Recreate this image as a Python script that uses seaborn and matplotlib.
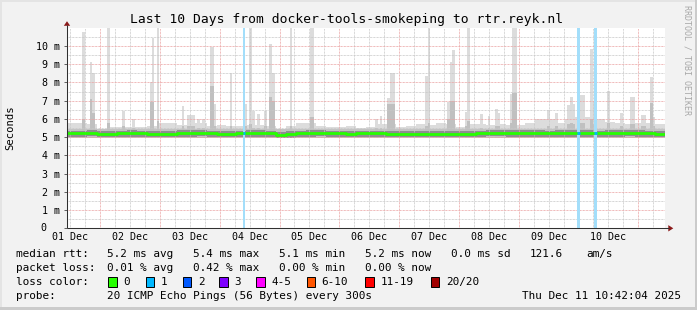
import numpy as np
import pandas as pd
import matplotlib
matplotlib.use("Agg")
import matplotlib.pyplot as plt
import seaborn as sns
from matplotlib.patches import Rectangle, Polygon

# ---------------- data (hours since Dec 1 10:42, values in ms) ----------------
BIN_H = 4
smoke_top = [5.8, 5.8, 5.7, 5.45, 5.55, 5.55, 5.55, 5.55, 5.6, 5.8,
             5.8, 5.65, 5.8, 5.8, 5.6, 5.65, 5.6, 5.6, 5.65, 5.65,
             5.6, 5.45, 5.6, 5.75, 5.8, 5.6, 5.55, 5.55, 5.6, 5.5,
             5.55, 5.7, 5.7, 5.55, 5.6, 5.7, 5.65, 5.75, 5.7, 5.55,
             5.7, 5.7, 5.65, 5.7, 5.65, 5.65, 5.8, 6.0, 6.0, 5.8,
             6.0, 6.1, 6.1, 6.0, 5.85, 5.8, 5.7, 5.8, 5.8, 5.7]
median_ms = [5.2, 5.2, 5.23, 5.17, 5.18, 5.2, 5.21, 5.2, 5.19, 5.19,
             5.18, 5.21, 5.22, 5.24, 5.2, 5.18, 5.18, 5.2, 5.22, 5.22,
             5.2, 5.14, 5.16, 5.2, 5.22, 5.23, 5.2, 5.2, 5.19, 5.2,
             5.2, 5.2, 5.19, 5.18, 5.18, 5.18, 5.19, 5.18, 5.18, 5.19,
             5.18, 5.2, 5.23, 5.24, 5.22, 5.22, 5.22, 5.21, 5.2, 5.22,
             5.21, 5.21, 5.22, 5.2, 5.21, 5.22, 5.23, 5.22, 5.2, 5.19]

spike_start = [6.1, 9.2, 10.2, 15.9, 22.0, 26.0, 33.3, 34.1, 36.0, 46.0,
               48.0, 52.0, 54.0, 57.4, 58.8, 65.5, 71.5, 73.2, 74.2, 76.4,
               79.2, 81.2, 82.2, 89.6, 97.6, 123.7, 125.7, 128.4, 129.7, 143.8,
               144.7, 152.5, 153.8, 154.7, 159.8, 160.7, 165.9, 168.8, 171.9, 172.8,
               177.9, 178.6, 192.6, 196.0, 200.7, 202.0, 202.9, 205.7, 210.0, 211.0,
               216.7, 222.0, 226.0, 230.5, 234.1, 235.0]
spike_end = [7.2, 10.2, 11.2, 17.3, 23.3, 27.3, 34.1, 35.1, 37.1, 47.1,
             51.4, 53.4, 55.4, 58.8, 59.8, 66.4, 72.4, 74.2, 75.5, 77.5,
             80.2, 82.2, 83.5, 90.5, 99.2, 125.0, 126.6, 129.7, 131.7, 144.7,
             145.8, 153.8, 154.7, 155.8, 160.7, 161.8, 166.8, 169.9, 172.8, 173.9,
             178.6, 180.7, 194.0, 196.9, 202.0, 202.9, 204.0, 208.0, 211.0, 212.0,
             218.1, 223.0, 227.8, 232.4, 235.0, 236.0]
spike_top = [10.77, 9.12, 8.49, 11.0, 6.42, 6.02, 8.0, 10.44, 11.0, 6.7,
             6.24, 6.0, 6.0, 9.95, 6.8, 8.49, 6.8, 11.0, 6.42, 6.25,
             6.42, 10.1, 8.49, 11.0, 11.0, 6.0, 6.17, 7.15, 8.49, 8.36,
             11.0, 6.93, 9.12, 9.76, 6.39, 11.0, 6.25, 6.17, 6.53, 6.3,
             7.35, 11.0, 6.48, 6.33, 6.75, 7.2, 6.8, 7.3, 9.82, 6.9,
             7.54, 6.3, 7.2, 6.2, 8.3, 6.1]
spike_mid = [6.0, 7.1, 6.3, 5.8, 5.6, 5.5, 6.9, 6.9, 5.9, 5.6,
             5.6, 5.5, 5.5, 7.8, 5.6, 5.6, 5.6, 5.7, 5.5, 5.5,
             5.6, 7.2, 7.0, 5.6, 6.1, 5.5, 5.5, 6.8, 6.8, 5.6,
             5.8, 6.0, 7.0, 7.0, 5.6, 5.9, 5.5, 5.5, 5.6, 5.6,
             5.8, 7.4, 5.6, 5.6, 5.7, 5.8, 5.7, 5.8, 6.0, 5.7,
             5.8, 5.6, 5.7, 5.6, 6.85, 5.6]

loss_hours = [71.0, 205.2, 212.2]
day_labels = ["01 Dec", "02 Dec", "03 Dec", "04 Dec", "05 Dec",
              "06 Dec", "07 Dec", "08 Dec", "09 Dec", "10 Dec"]
y_tick_values = [0, 1, 2, 3, 4, 5, 6, 7, 8, 9, 10]
y_tick_labels = ["0", "1 m", "2 m", "3 m", "4 m", "5 m", "6 m", "7 m", "8 m", "9 m", "10 m"]

loss_names = ["0", "1", "2", "3", "4-5", "6-10", "11-19", "20/20"]
loss_colors = ["#26ff00", "#00b8ff", "#0059ff", "#7e00ff", "#ff00ff", "#ff5500", "#ff0000", "#a10000"]

TOTAL_H = 240
START_OFFSET_TO_NOON = 1.3   # Dec 1 10:42 -> 12:00
START_OFFSET_TO_MIDNIGHT = 13.3

# ---------------- figure ----------------
W, H = 697, 310
sns.set_theme(style="white")
plt.rcParams["font.family"] = ["DejaVu Sans Mono", "DejaVu Sans"]
MONO = "DejaVu Sans Mono"

fig = plt.figure(figsize=(W / 100, H / 100), dpi=100)
fig.patch.set_facecolor("#f2f2f2")

L, R, T, B = 67.0, 665.0, 27.7, 228.3
ax = fig.add_axes([L / W, (H - B) / H, (R - L) / W, (B - T) / H])
ax.set_facecolor("white")
ax.set_xlim(0, TOTAL_H)
ax.set_ylim(0, 11)
for s in ax.spines.values():
    s.set_visible(False)

edges = np.arange(len(smoke_top) + 1) * BIN_H
top_step = np.append(smoke_top, smoke_top[-1])
med_step = np.append(median_ms, median_ms[-1])

LIGHT, MID, DARK = "#dcdcdc", "#c3c3c3", "#8e8e8e"
SMOKE_LO = 4.93
MID_LO, MID_HI = 4.97, 5.45

# light smoke
ax.fill_between(edges, SMOKE_LO, top_step, step="post", color=LIGHT, lw=0, zorder=1)
s_start = np.array(spike_start)
s_w = np.array(spike_end) - s_start
ax.bar(s_start, np.array(spike_top) - SMOKE_LO, width=s_w, bottom=SMOKE_LO,
       align="edge", color=LIGHT, linewidth=0, zorder=1)
# medium smoke
ax.fill_between(edges, MID_LO, MID_HI, step="post", color=MID, lw=0, zorder=2)
ax.bar(s_start, np.array(spike_mid) - MID_LO, width=s_w, bottom=MID_LO,
       align="edge", color="#c0c0c0", linewidth=0, zorder=2)
# dark smoke around median
ax.fill_between(edges, med_step - 0.19, med_step + 0.16, step="post", color=DARK, lw=0, zorder=3)

# grid
dash = (0, (0.72, 0.72))
midnights = [START_OFFSET_TO_MIDNIGHT + 24 * k for k in range(10)]
sixes = [START_OFFSET_TO_NOON + 6 * k for k in range(40)]
minor_v = [h for h in sixes if all(abs(h - m) > 0.1 for m in midnights) and h < TOTAL_H]
ax.vlines(minor_v, 0, 11, colors="#c8c8c8", linestyles=dash, linewidth=0.72, zorder=4)
ax.vlines(midnights, 0, 11, colors="#eba3a3", linestyles=dash, linewidth=0.72, zorder=4)
ax.hlines([v + 0.5 for v in range(11)], 0, TOTAL_H, colors="#c8c8c8", linestyles=dash, linewidth=0.72, zorder=4)
ax.hlines(list(range(1, 11)), 0, TOTAL_H, colors="#eba3a3", linestyles=dash, linewidth=0.72, zorder=4)

# loss bars
ax.bar(loss_hours, 11, width=1.0, bottom=0, color="#a3defa", linewidth=0, zorder=5)

# median line
df = pd.DataFrame({"hour": edges, "median": med_step})
sns.lineplot(data=df, x="hour", y="median", drawstyle="steps-post", color="#26ff00",
             linewidth=2.0, estimator=None, ax=ax, zorder=6)
for h in loss_hours:
    idx = min(int(h // BIN_H), len(median_ms) - 1)
    ax.plot([h - 0.5, h + 0.5], [median_ms[idx]] * 2, color="#00b8ff", lw=2.0,
            solid_capstyle="butt", zorder=7)
ax.set_xlabel("")
ax.set_ylabel("")

# ticks
ax.set_xticks([START_OFFSET_TO_NOON + 24 * k for k in range(10)], labels=day_labels)
ax.set_yticks(y_tick_values, labels=[""] + y_tick_labels[1:])
ax.tick_params(axis="x", length=0, pad=3.0, labelsize=7.2, labelcolor="#000000")
ax.tick_params(axis="y", length=2.2, width=0.7, color="#606060", pad=2.6, labelsize=7.2,
               labelcolor="#000000", left=True)
for lab in ax.get_xticklabels() + ax.get_yticklabels():
    lab.set_family(MONO)
# rrdtool pads the "0" label to the width of "0  m", so it sits further left
ax.annotate(y_tick_labels[0], xy=(0, y_tick_values[0]), xycoords=("axes fraction", "data"),
            xytext=(-14.6, 0), textcoords="offset points", ha="right", va="center",
            fontsize=7.2, family=MONO, color="#000000", annotation_clip=False)
ax.grid(False)

# ---------------- overlay (pixel coords) ----------------
ov = fig.add_axes([0, 0, 1, 1], zorder=10)
ov.set_xlim(0, W)
ov.set_ylim(H, 0)
ov.axis("off")
ov.patch.set_alpha(0)

# frame
ov.add_patch(Rectangle((0, 0), W, 2, color="#e4e4e4", lw=0))
ov.add_patch(Rectangle((0, 0), 2, H, color="#e4e4e4", lw=0))
ov.add_patch(Rectangle((0, H - 3), W, 3, color="#cbcbcb", lw=0))
ov.add_patch(Rectangle((W - 2, 0), 2, H, color="#cbcbcb", lw=0))

# axes lines & arrows
ov.plot([L, L], [B, 24.5], color="#303030", lw=0.75, solid_capstyle="butt")
ov.plot([L, 669], [B, B], color="#303030", lw=0.75, solid_capstyle="butt")
ov.add_patch(Polygon([[63.8, 25.8], [70.2, 25.8], [67, 21.2]], closed=True, color="#8b1a1a", lw=0))
ov.add_patch(Polygon([[668.3, 225.1], [668.3, 231.5], [673.3, 228.3]], closed=True, color="#8b1a1a", lw=0))

# title and labels
ov.text(347, 19.3, "Last 10 Days from docker-tools-smokeping to rtr.reyk.nl",
        ha="center", va="center", fontsize=9.4, family=MONO, color="#000000")
ov.text(10.5, 127.5, "Seconds", rotation=90, ha="center", va="center",
        fontsize=7.6, family=MONO, color="#000000")
ov.text(687.5, 60, "RRDTOOL / TOBI OETIKER", rotation=270, ha="center", va="center",
        fontsize=6.0, family=MONO, color="#a8a8a8")

FS = 7.9
def t(x, y, s, **kw):
    ov.text(x, y, s, ha=kw.pop("ha", "left"), va="center", fontsize=FS, family=MONO,
            color="#000000", **kw)

y1, y2, y3, y4 = 254.3, 268.3, 282.3, 295.7
t(16, y1, "median rtt:")
for x, s in [(107.3, "5.2 ms avg"), (193.3, "5.4 ms max"), (279.3, "5.1 ms min"),
             (365, "5.2 ms now"), (451, "0.0 ms sd"), (530, "121.6"), (586, "am/s")]:
    t(x, y1, s)
t(16, y2, "packet loss:")
for x, s in [(107.3, "0.01 % avg"), (193.3, "0.42 % max"), (279.3, "0.00 % min"),
             (365, "0.00 % now")]:
    t(x, y2, s)
t(16, y3, "loss color:")
box_x = [108.3, 145.7, 182.7, 219.3, 256.0, 306.7, 365.3, 430.7]
for bx, name, col in zip(box_x, loss_names, loss_colors):
    ov.add_patch(Rectangle((bx, y3 - 5), 8.5, 9.5, facecolor=col, edgecolor="#000000", lw=0.7))
    t(bx + 15, y3, name)
t(16, y4, "probe:")
t(107.3, y4, "20 ICMP Echo Pings (56 Bytes) every 300s")
t(680.5, y4, "Thu Dec 11 10:42:04 2025", ha="right")

fig.savefig("out.png", dpi=100, facecolor=fig.get_facecolor())
